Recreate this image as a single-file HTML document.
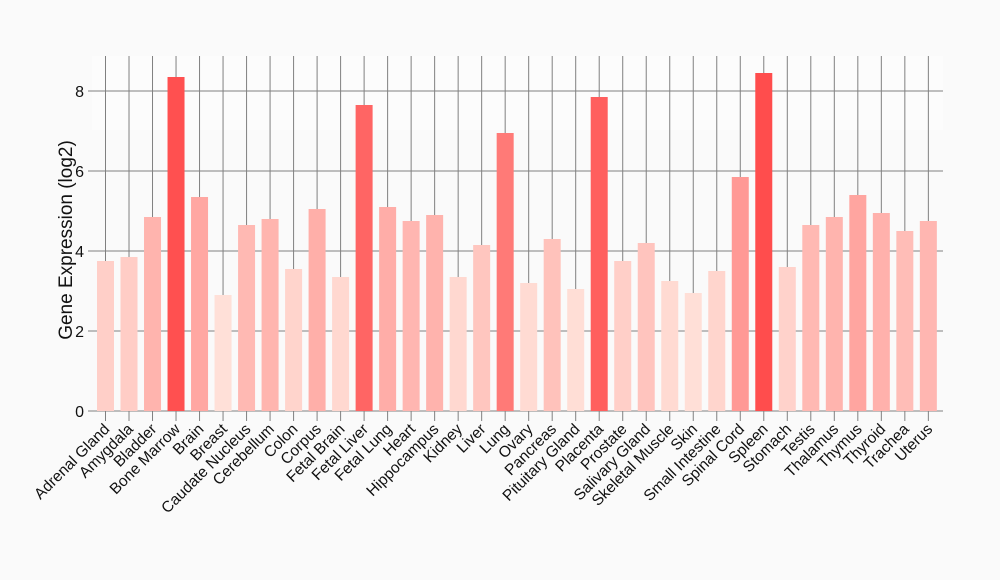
<!DOCTYPE html>
<html><head><meta charset="utf-8"><style>
html,body{margin:0;padding:0;background:#fafafa;}
svg{display:block;font-family:"Liberation Sans",Arial,sans-serif;}
</style></head><body>
<svg id="s" width="1000" height="580" xmlns="http://www.w3.org/2000/svg">
<rect width="1000" height="580" fill="#fafafa"/>
</svg>
<script>
var names=["Adrenal Gland","Amygdala","Bladder","Bone Marrow","Brain","Breast","Caudate Nucleus","Cerebellum","Colon","Corpus","Fetal Brain","Fetal Liver","Fetal Lung","Heart","Hippocampus","Kidney","Liver","Lung","Ovary","Pancreas","Pituitary Gland","Placenta","Prostate","Salivary Gland","Skeletal Muscle","Skin","Small Intestine","Spinal Cord","Spleen","Stomach","Testis","Thalamus","Thymus","Thyroid","Trachea","Uterus"];
var v=[3.75,3.85,4.85,8.35,5.35,2.9,4.65,4.8,3.55,5.05,3.35,7.65,5.1,4.75,4.9,3.35,4.15,6.95,3.2,4.3,3.05,7.85,3.75,4.2,3.25,2.95,3.5,5.85,8.45,3.6,4.65,4.85,5.4,4.95,4.5,4.75];
var s=document.getElementById('s'),h='';
var x0=105.5,dx=23.51,y0=411,k=40;
h+='<rect x="92" y="56" width="851" height="74" fill="#fcfcfc"/>';
for(var i=0;i<36;i++){var x=x0+i*dx;h+='<line x1="'+x+'" y1="56" x2="'+x+'" y2="421" stroke="#808080" stroke-width="1"/>';}
for(var j=0;j<=4;j++){var y=y0-j*2*k;h+='<line x1="88" y1="'+y+'" x2="943" y2="'+y+'" stroke="#808080" stroke-width="1"/>';
h+='<text x="84" y="'+(y+6)+'" font-size="16" text-anchor="end" fill="#111">'+(j*2)+'</text>';}
function col(t){var a=[255,224,216],b=[255,77,77];var r=[];for(var c=0;c<3;c++)r.push(Math.round(a[c]+(b[c]-a[c])*t));return 'rgb('+r.join(',')+')';}
for(var i=0;i<36;i++){var x=x0+i*dx;var t=Math.max(0,Math.min(1,(v[i]-2.9)/(8.45-2.9)));t=Math.pow(t,1.15);
h+='<rect x="'+(x-8.5)+'" y="'+(y0-v[i]*k)+'" width="17" height="'+(v[i]*k)+'" fill="'+col(t)+'"/>';
h+='<text transform="translate('+(x+5)+',430) rotate(-45)" font-size="15.5" text-anchor="end" fill="#111">'+names[i]+'</text>';}
h+='<text transform="translate(72,240) rotate(-90)" font-size="19" text-anchor="middle" fill="#111">Gene Expression (log2)</text>';
s.innerHTML+=h;
</script>
</body></html>
